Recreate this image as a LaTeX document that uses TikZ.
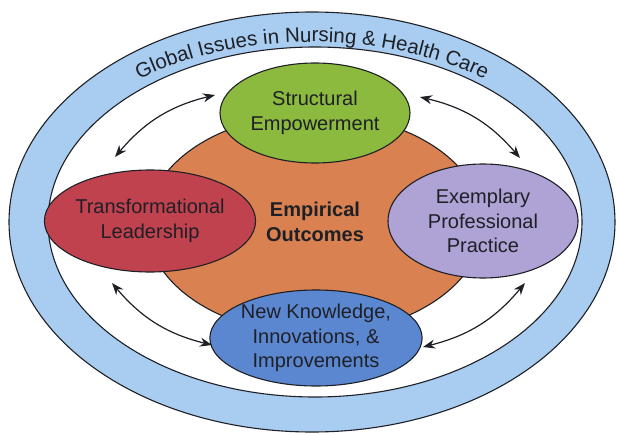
\documentclass[tikz,border=0pt]{standalone}
\usepackage{fontspec}
\setmainfont{Liberation Sans}
\usepackage{xcolor}
\usetikzlibrary{
    shapes.geometric,
    arrows.meta,
    decorations.text,
    positioning
}
\definecolor{bandblue}{RGB}{169,205,240}
\definecolor{leafgreen}{RGB}{139,186,62}
\definecolor{outcomeorange}{RGB}{217,129,80}
\definecolor{leadred}{RGB}{193,66,79}
\definecolor{practicepurple}{RGB}{175,163,214}
\definecolor{knowblue}{RGB}{91,135,208}
\definecolor{inkline}{RGB}{30,32,38}

\begin{document}
\begin{tikzpicture}[x=1pt, y=1pt,
    blob/.style={ellipse, draw=inkline, line width=1.1pt, inner sep=0pt, align=center,
        font=\fontsize{20}{24.5}\selectfont, text=inkline},
    link/.style={{Stealth[length=12pt,width=9pt]}-{Stealth[length=12pt,width=9pt]},
        line width=1.2pt, inkline, bend left=18}]
    \useasboundingbox (-312,-212) rectangle (306,222);
    \node[blob, fill=bandblue, minimum width=606pt, minimum height=420pt] (ring) at (0,0) {};
    \node[blob, fill=white, minimum width=534pt, minimum height=350pt] (field) at (3,0) {};
    \node[blob, fill=outcomeorange, minimum width=336pt, minimum height=220pt] (outcomes) at (3,-2) {};
    \node[blob, fill=leafgreen, minimum width=190pt, minimum height=100pt] (se) at (3,109) {Structural\\Empowerment};
    \node[blob, fill=leadred, minimum width=184pt, minimum height=102pt] (tl) at (-162,1) {Transformational\\Leadership};
    \node[blob, fill=practicepurple, minimum width=190pt, minimum height=114pt] (ep) at (171,1) {Exemplary\\Professional\\Practice};
    \node[blob, fill=knowblue, minimum width=188pt, minimum height=96pt] (nk) at (4,-116) {New Knowledge,\\Innovations, \&\\Improvements};
    \node[align=center, font=\fontsize{20}{24.5}\selectfont\bfseries, text=inkline] (eo) at (3,0) {Empirical\\Outcomes};

    % ring caption
    \path[decorate, decoration={text along path, text align=center,
        text={|\fontsize{20.5}{21}\selectfont\color{inkline}|Global Issues in Nursing {\&} Health Care}}]
        (0,0) ++(165:284 and 180) arc[start angle=165, end angle=15, x radius=284, y radius=180];

    \coordinate (a1) at (-197,65);
    \coordinate (a2) at (-97,127);
    \coordinate (b1) at (108,125);
    \coordinate (b2) at (208,64);
    \coordinate (c1) at (213,-61);
    \coordinate (c2) at (111,-125);
    \coordinate (d1) at (-100,-123);
    \coordinate (d2) at (-200,-61);

    \draw
    (a1) edge[link] (a2)
    (b1) edge[link] (b2)
    (c1) edge[link] (c2)
    (d1) edge[link] (d2);
\end{tikzpicture}
\end{document}
